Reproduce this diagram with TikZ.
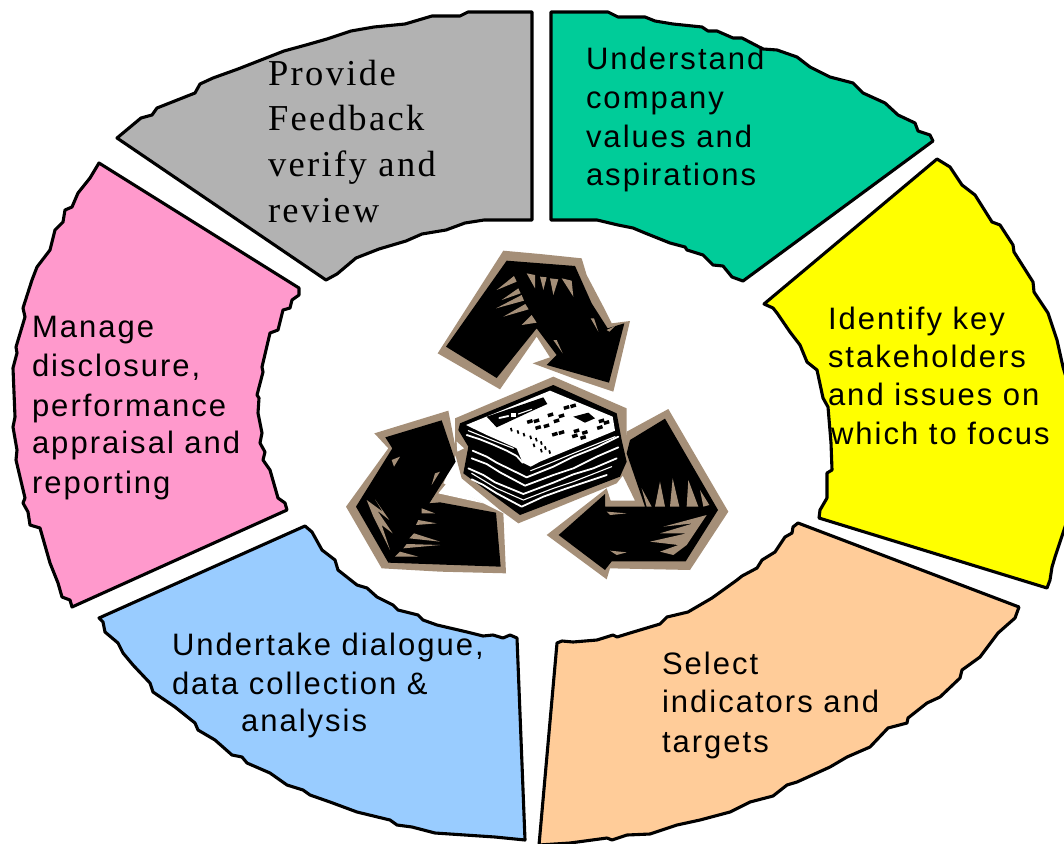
\documentclass[tikz,border=0pt]{standalone}
\usepackage{fontspec}
\newfontfamily\labsans[LetterSpace=6.5]{Liberation Sans}
\newfontfamily\labserif[LetterSpace=6.5]{Liberation Serif}
\newcommand{\fl}{\rule{0pt}{30pt}}
\definecolor{cgray}{HTML}{B2B2B2}
\definecolor{cgreen}{HTML}{00CC99}
\definecolor{cyell}{RGB}{255,255,0}
\definecolor{cpink}{HTML}{FF99CC}
\definecolor{cblue}{HTML}{99CCFF}
\definecolor{corange}{HTML}{FFCC99}
\definecolor{ctan}{HTML}{A58F78}
\tikzset{
  seg/.style={draw=black,line width=3.1pt,line join=round},
  lab/.style={anchor=north west,inner sep=0pt,outer sep=0pt,align=left,text=black,font=\labsans\fontsize{31}{38.3}\selectfont},
  labs/.style={anchor=north west,inner sep=0pt,outer sep=0pt,align=left,text=black,font=\labserif\fontsize{36.5}{45.7}\selectfont},
  tanf/.style={fill=ctan,draw=none},
  blk/.style={fill=black,draw=none},
  wln/.style={draw=white,line width=1.1pt,line join=round,line cap=round},
  wlt/.style={draw=white,line width=1.8pt,line join=round,line cap=round}
}
\begin{document}
\begin{tikzpicture}[x=1pt,y=-1pt]
\useasboundingbox (0,0) rectangle (1064,843);
% gray
\path[seg,fill=cgray] (532,12)--(468,12)--(460,16)--(432,16)--(405,24)--(374,27)--(351,31)--(327,39)--(306,45)--(284,51)--(238,69)--(213,78)--(200,84)--(195,93)--(157,108)--(152,115)--(141,118)--(117,138)--(326,280)--(337,274)--(356,258)--(379,249)--(406,241)--(422,234)--(446,230)--(465,223)--(484,220)--(532,220)--cycle;
% green
\path[seg,fill=cgreen] (551,12)--(608,12)--(618,17)--(645,17)--(655,21)--(673,24)--(702,27)--(708,31)--(717,31)--(733,38)--(742,38)--(763,49)--(777,50)--(797,57)--(810,67)--(830,77)--(853,83)--(863,93)--(885,103)--(898,115)--(915,123)--(918,131)--(930,135)--(933,141)--(743,281)--(732,277)--(723,266)--(713,265)--(703,255)--(687,250)--(685,247)--(670,243)--(645,233)--(633,228)--(618,225)--(597,220)--(551,220)--cycle;
% yellow
\path[seg,fill=cyell] (937,159)--(950,167)--(962,185)--(975,195)--(992,222)--(1000,225)--(1013,245)--(1014,252)--(1033,282)--(1034,292)--(1048,313)--(1057,340)--(1063,367)--(1069,387)--(1069,515)--(1055,557)--(1052,567)--(1050,580)--(1047,588)--(819,518)--(820,510)--(827,498)--(827,473)--(832,470)--(831,443)--(828,407)--(823,398)--(817,370)--(807,362)--(800,345)--(790,332)--(777,313)--(773,308)--(764,304)--cycle;
% orange
\path[seg,fill=corange] (798,523)--(1019,607)--(1015,618)--(998,633)--(980,657)--(962,670)--(960,678)--(940,697)--(927,703)--(908,718)--(907,723)--(888,728)--(870,747)--(847,757)--(830,767)--(797,782)--(787,785)--(773,796)--(750,802)--(730,812)--(700,820)--(677,825)--(650,834)--(627,835)--(612,840)--(607,838)--(570,843)--(539,845)--(557,643)--(562,641)--(573,642)--(597,640)--(613,635)--(617,637)--(630,633)--(660,624)--(667,617)--(688,612)--(712,598)--(737,580)--(742,576)--(757,568)--(762,560)--(775,552)--(785,537)--(792,533)--(793,527)--cycle;
% blue
\path[seg,fill=cblue] (305,526)--(312,532)--(322,550)--(335,560)--(338,570)--(357,585)--(367,588)--(377,597)--(393,605)--(398,610)--(418,615)--(423,620)--(437,625)--(467,632)--(483,636)--(493,635)--(503,638)--(510,635)--(517,638)--(525,840)--(495,837)--(465,835)--(435,833)--(412,827)--(397,825)--(390,820)--(357,812)--(330,802)--(310,795)--(303,790)--(287,785)--(270,773)--(247,763)--(242,757)--(232,755)--(215,740)--(198,730)--(195,723)--(175,707)--(153,692)--(150,683)--(133,665)--(123,653)--(118,643)--(105,632)--(103,622)--(99,618)--cycle;
% pink
\path[seg,fill=cpink] (99,163)--(299,288)--(299,295)--(292,300)--(290,308)--(283,310)--(278,330)--(270,333)--(262,367)--(263,372)--(257,395)--(259,398)--(258,413)--(262,433)--(260,443)--(265,452)--(263,460)--(270,470)--(278,498)--(285,503)--(287,510)--(72,607)--(70,600)--(62,597)--(58,583)--(50,563)--(40,528)--(30,525)--(28,512)--(23,503)--(25,498)--(16,460)--(17,450)--(13,427)--(15,417)--(13,368)--(17,353)--(16,347)--(25,317)--(23,308)--(32,280)--(37,267)--(50,250)--(55,230)--(63,222)--(65,210)--(72,207)--(78,193)--(90,178)--cycle;
% centre artwork, traced in a 3x grid
\begin{scope}[shift={(340,240)},x=0.33333pt,y=-0.33333pt]
% tan halos
\fill[tanf] (490,32)--(600,42)--(725,55)--(740,105)--(790,200)--(815,250)--(870,243)--(820,455)--(700,415)--(578,370)--(630,352)--(590,290)--(480,448)--(293,340)--cycle;
\fill[tanf] (103,580)--(325,512)--(350,640)--(310,730)--(430,790)--(490,820)--(498,1000)--(300,995)--(125,985)--(18,800)--(145,625)--cycle;
\fill[tanf] (860,575)--(985,507)--(1165,815)--(1050,990)--(810,985)--(800,1018)--(620,885)--(800,745)--(812,782)--(885,782)--(845,700)--cycle;
\fill[tanf] (345,535)--(640,410)--(860,505)--(860,600)--(870,680)--(830,730)--(535,850)--(480,810)--(365,715)--(345,640)--cycle;
% white gaps
\fill[white] (320,730)--(430,790)--(295,760)--cycle;
\fill[white] (815,780)--(815,745)--(840,725)--(880,775)--cycle;
\fill[white] (350,605)--(372,625)--(352,635)--cycle;
% top arrow
\fill[blk] (500,62)--(705,78)--(755,190)--(803,265)--(853,250)--(807,428)--(620,375)--(650,345)--(590,265)--(470,414)--(318,320)--cycle;
\fill[tanf] (522,108)--(470,150)--(530,125)--cycle;
\fill[tanf] (535,145)--(485,180)--(542,160)--cycle;
\fill[tanf] (545,165)--(468,205)--(552,182)--cycle;
\fill[tanf] (556,192)--(490,230)--(566,208)--cycle;
\fill[tanf] (575,225)--(545,255)--(590,248)--cycle;
\fill[tanf] (560,100)--(585,145)--(585,105)--cycle;
\fill[tanf] (600,110)--(610,150)--(620,112)--cycle;
\fill[tanf] (630,115)--(640,165)--(655,118)--cycle;
\fill[tanf] (665,115)--(700,170)--(695,122)--cycle;
\fill[tanf] (752,235)--(775,275)--(762,235)--cycle;
\fill[tanf] (800,270)--(825,258)--(808,275)--cycle;
\fill[tanf] (640,300)--(668,340)--(650,300)--cycle;
% bottom-left arrow
\fill[blk] (136,592)--(305,541)--(347,665)--(268,790)--(300,787)--(468,818)--(482,980)--(145,968)--(48,800)--(157,625)--cycle;
\fill[tanf] (80,780)--(128,815)--(105,778)--(148,840)--(112,812)--(158,880)--(125,855)--(150,930)--(100,830)--cycle;
\fill[tanf] (245,805)--(285,820)--(245,820)--cycle;
\fill[tanf] (235,840)--(290,850)--(228,855)--cycle;
\fill[tanf] (222,880)--(300,905)--(208,895)--cycle;
\fill[tanf] (200,912)--(300,915)--(190,925)--cycle;
\fill[tanf] (180,935)--(235,950)--(165,950)--cycle;
\fill[tanf] (155,660)--(180,650)--(162,680)--cycle;
\fill[tanf] (285,700)--(300,695)--(275,735)--cycle;
% right arrow
\fill[blk] (870,600)--(975,536)--(1134,810)--(1037,964)--(815,964)--(795,990)--(656,885)--(795,762)--(795,800)--(915,800)--(860,640)--cycle;
\fill[tanf] (920,800)--(905,745)--(935,800)--cycle;
\fill[tanf] (945,800)--(960,725)--(975,800)--cycle;
\fill[tanf] (990,800)--(998,715)--(1018,800)--cycle;
\fill[tanf] (1040,800)--(1045,720)--(1075,800)--cycle;
\fill[tanf] (1090,800)--(1080,750)--(1108,795)--cycle;
\fill[tanf] (1100,825)--(970,860)--(1060,850)--(960,880)--(1040,880)--(930,905)--(1015,915)--(960,935)--(1000,945)--(1040,915)--cycle;
\fill[tanf] (810,932)--(860,937)--(830,945)--cycle;
\fill[tanf] (800,815)--(860,820)--(810,825)--cycle;
% newspaper
\fill[blk] (360,550)--(640,435)--(830,520)--(845,600)--(860,665)--(840,710)--(540,825)--(370,700)--(385,620)--(355,570)--cycle;
\fill[white] (378,555)--(630,452)--(818,530)--(825,572)--(600,665)--(572,680)--(548,668)--(530,625)--(440,585)--cycle;
% headline bars and print
\fill[black] (440,530)--(610,472)--(622,492)--(560,520)--(470,562)--cycle;
\draw[wlt] (478,534)--(505,528);
\fill[white] (512,520) rectangle (528,531);
\draw[wln] (535,522)--(575,508);
\fill[black] (700,530)--(745,518)--(765,535)--(735,548)--cycle;
\foreach \a/\b in {622/522,640/540,655/525,560/542,580/540,585/560,610/555,635/580,655/575,700/570,725/575,695/585,720/590,670/500,690/495,770/560,775/540,790/545}{
  \fill[black] (\a,\b)--++(16,-5)--++(3,10)--++(-16,5)--cycle;
}
\foreach \a/\b in {510/565,530/572,548/580,568/588,585/595,600/605,612/620,625/632,600/628,578/612}{
  \fill[black] (\a,\b)--++(5,-2)--++(3,10)--++(-5,2)--cycle;
}
% page edges
\draw[wlt] (380,585)--(420,598)--(455,612)--(500,632)--(530,648)--(548,668);
\draw[wln] (385,572)--(450,598)--(520,625);
\draw[wlt] (398,632)--(440,650)--(470,668)--(515,690)--(560,712)--(640,680)--(700,650)--(770,622)--(835,590);
\draw[wln] (572,692)--(640,665)--(700,640)--(825,590);
\draw[wlt] (395,655)--(440,672)--(480,697)--(555,737)--(640,705)--(700,685)--(770,650)--(835,622);
\draw[wlt] (385,685)--(430,705)--(465,727)--(550,762)--(640,728)--(700,703)--(760,685)--(830,655);
\draw[wln] (395,700)--(470,745)--(550,780)--(640,745)--(700,725)--(815,680);
\draw[wlt] (395,718)--(430,735)--(470,760)--(545,800)--(610,770)--(680,745)--(800,705);
\end{scope}
% labels
\node[labs] (tfeed) at (268,55) {\rule{0pt}{30pt}Provide\\Feedback\\verify and\\review};
\node[lab] (tunder) at (586,39) {\fl Understand\\[1pt]company\\[0.7pt]values and\\aspirations};
\node[lab] (tident) at (828,299) {\fl Identify key\\stakeholders\\and issues on\\[0.5pt]\hspace*{3pt}which to focus};
\node[lab] (tsel) at (662,644) {\fl Select\\indicators and\\[1.5pt]targets};
\node[lab] (tund) at (172,625) {\fl Undertake dialogue,\\[1.5pt]data collection \&\\[-2pt]\hspace*{69pt}analysis};
\node[lab] (tman) at (32,307) {\fl Manage\\[1.5pt]disclosure,\\[1pt]performance\\[-1pt]appraisal and\\[1.5pt]reporting};
\end{tikzpicture}
\end{document}
